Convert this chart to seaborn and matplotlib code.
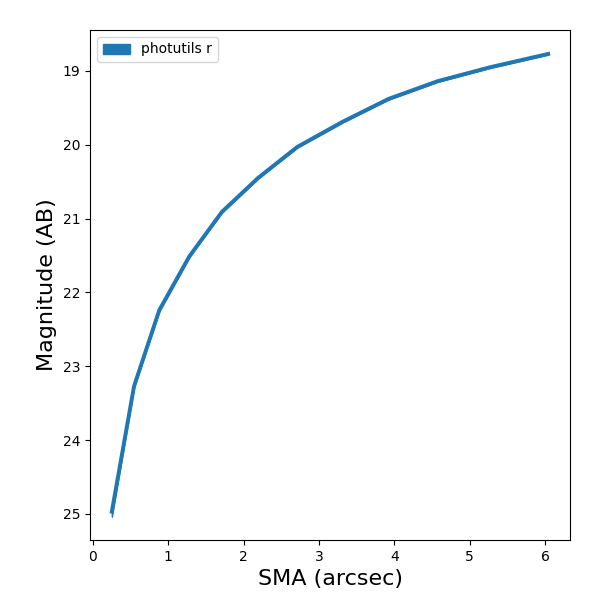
import matplotlib
matplotlib.use("Agg")
import matplotlib.pyplot as plt
import seaborn as sns
import numpy as np

sma = [0.25, 0.545, 0.88, 1.28, 1.71, 2.19, 2.71, 3.31, 3.92, 4.57, 5.27, 6.04]
mag = [24.97, 23.27, 22.24, 21.51, 20.91, 20.45, 20.03, 19.69, 19.38, 19.14, 18.95, 18.77]
mag_err = [0.07, 0.02, 0.015, 0.01, 0.01, 0.01, 0.01, 0.01, 0.01, 0.01, 0.01, 0.01]
label = "photutils r"
color = "#1f77b4"

sma_a = np.array(sma)
mag_a = np.array(mag)
err_a = np.array(mag_err)

fig, ax = plt.subplots(figsize=(6, 6), dpi=100)
fig.subplots_adjust(left=0.15, right=0.95, bottom=0.1, top=0.95)

sns.lineplot(x=sma_a, y=mag_a, ax=ax, color=color, lw=2.8, legend=False, sort=False)
ax.fill_between(sma_a, mag_a - err_a, mag_a + err_a, color=color, label=label)

ax.invert_yaxis()
ax.set_xlabel("SMA (arcsec)", fontsize=16)
ax.set_ylabel("Magnitude (AB)", fontsize=16)
ax.legend(loc="upper left")

fig.savefig("out.png")
